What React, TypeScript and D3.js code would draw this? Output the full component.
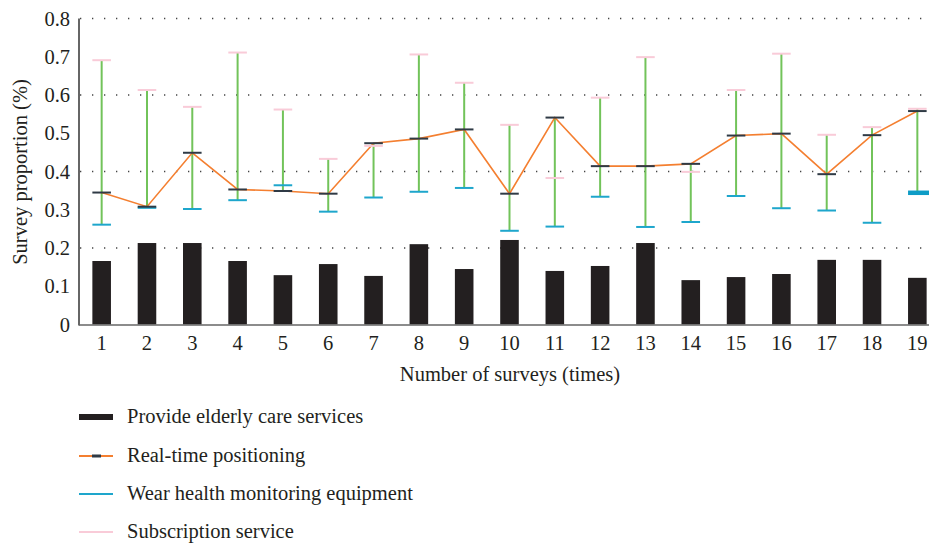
import { useEffect, useRef } from 'react';
import * as d3 from 'd3';

// survey rounds 1..19
const surveys = d3.range(1, 20).map(String);
// Provide elderly care services (bars)
const careValues = [0.166, 0.213, 0.213, 0.166, 0.129, 0.158, 0.127, 0.21, 0.145, 0.221, 0.14, 0.153, 0.213, 0.116, 0.124, 0.132, 0.169, 0.169, 0.122];
// Real-time positioning (line)
const positioningValues = [0.345, 0.308, 0.449, 0.353, 0.349, 0.342, 0.474, 0.486, 0.51, 0.342, 0.541, 0.414, 0.414, 0.42, 0.494, 0.499, 0.393, 0.495, 0.558];
// Wear health monitoring equipment (cap)
const wearValues = [0.261, 0.305, 0.302, 0.325, 0.364, 0.295, 0.332, 0.347, 0.357, 0.245, 0.256, 0.334, 0.255, 0.268, 0.336, 0.304, 0.298, 0.266, 0.345];
// Subscription service (cap)
const subscriptionValues = [0.691, 0.613, 0.569, 0.711, 0.562, 0.433, 0.467, 0.706, 0.632, 0.522, 0.383, 0.593, 0.699, 0.399, 0.613, 0.708, 0.496, 0.516, 0.564];
const yTicks = [0, 0.1, 0.2, 0.3, 0.4, 0.5, 0.6, 0.7, 0.8];
const gridTicks = [0.2, 0.4, 0.6, 0.8];
const legendLabels = ['Provide elderly care services', 'Real-time positioning', 'Wear health monitoring equipment', 'Subscription service'];

const FONT = '"Liberation Serif", "Times New Roman", serif';
const FS = '20.5px';

const App = () => {
  const svgRef = useRef<SVGSVGElement>(null);

  useEffect(() => {
    const w = 929;
    const h = 543;
    const svg = d3.select(svgRef.current);
    svg.selectAll('*').remove();
    svg.attr('width', w).attr('height', h);

    const x = d3.scaleBand().domain(surveys).range([79, 940]).paddingInner(0.59).paddingOuter(0.295);
    const y = d3.scaleLinear().domain([0, 0.8]).range([324.5, 18.5]);
    const cx = (i: number) => (x(surveys[i]) as number) + x.bandwidth() / 2;
    const capW = x.bandwidth();

    // dotted grid
    svg.append('g')
      .selectAll('line')
      .data(gridTicks)
      .enter().append('line')
      .attr('x1', 80).attr('x2', w)
      .attr('y1', d => y(d)).attr('y2', d => y(d))
      .attr('stroke', '#444')
      .attr('stroke-width', 1.3)
      .attr('stroke-dasharray', '1.3,10.7');

    // bars
    svg.append('g')
      .selectAll('rect')
      .data(careValues)
      .enter().append('rect')
      .attr('x', (d, i) => x(surveys[i]) as number)
      .attr('y', d => y(d))
      .attr('width', x.bandwidth())
      .attr('height', d => y(0) - y(d))
      .attr('fill', '#231f20');

    // green range lines
    svg.append('g')
      .selectAll('line')
      .data(surveys)
      .enter().append('line')
      .attr('x1', (d, i) => cx(i)).attr('x2', (d, i) => cx(i))
      .attr('y1', (d, i) => y(Math.max(positioningValues[i], wearValues[i], subscriptionValues[i])))
      .attr('y2', (d, i) => y(Math.min(positioningValues[i], wearValues[i], subscriptionValues[i])))
      .attr('stroke', '#72c35a')
      .attr('stroke-width', 2);

    // orange line
    const line = d3.line<number>().x((d, i) => cx(i)).y(d => y(d));
    svg.append('path')
      .datum(positioningValues)
      .attr('d', line)
      .attr('fill', 'none')
      .attr('stroke', '#f47f30')
      .attr('stroke-width', 1.6);

    const caps = (vals: number[], color: string, thick: number) => {
      svg.append('g')
        .selectAll('line')
        .data(vals)
        .enter().append('line')
        .attr('x1', (d, i) => cx(i) - capW / 2).attr('x2', (d, i) => cx(i) + capW / 2)
        .attr('y1', d => y(d)).attr('y2', d => y(d))
        .attr('stroke', color)
        .attr('stroke-width', thick);
    };
    caps(subscriptionValues, '#f9cbd8', 2);
    caps(wearValues.slice(0, 18), '#1ea6cc', 2);
    caps(positioningValues, '#2f3a45', 2);
    // last blue cap drawn heavier
    svg.append('rect')
      .attr('x', cx(18) - capW / 2)
      .attr('y', y(wearValues[18]) - 2)
      .attr('width', capW + 4)
      .attr('height', 4.5)
      .attr('fill', '#0e9cc6');

    // axes
    svg.append('line')
      .attr('x1', 79).attr('x2', 79)
      .attr('y1', y(0.8)).attr('y2', y(0) + 1)
      .attr('stroke', '#333').attr('stroke-width', 1.5);
    svg.append('line')
      .attr('x1', 79).attr('x2', w)
      .attr('y1', y(0) + 0.5).attr('y2', y(0) + 0.5)
      .attr('stroke', '#666').attr('stroke-width', 1.5);

    svg.append('g')
      .selectAll('text')
      .data(yTicks)
      .enter().append('text')
      .attr('x', 70)
      .attr('y', d => y(d))
      .attr('dy', '0.35em')
      .attr('text-anchor', 'end')
      .style('font-family', FONT)
      .style('font-size', FS)
      .attr('fill', '#231f20')
      .text(d => (d === 0 ? '0' : d3.format('.1f')(d)));

    svg.append('g')
      .selectAll('text')
      .data(surveys)
      .enter().append('text')
      .attr('x', (d, i) => cx(i))
      .attr('y', 343)
      .attr('dy', '0.35em')
      .attr('text-anchor', 'middle')
      .style('font-family', FONT)
      .style('font-size', FS)
      .attr('fill', '#231f20')
      .text(d => d);

    svg.append('text')
      .attr('x', 510)
      .attr('y', 374)
      .attr('dy', '0.35em')
      .attr('text-anchor', 'middle')
      .style('font-family', FONT)
      .style('font-size', FS)
      .attr('fill', '#231f20')
      .text('Number of surveys (times)');

    svg.append('text')
      .attr('transform', 'translate(20,172) rotate(-90)')
      .attr('dy', '0.35em')
      .attr('text-anchor', 'middle')
      .style('font-family', FONT)
      .style('font-size', FS)
      .attr('fill', '#231f20')
      .text('Survey proportion (%)');

    // legend
    const ly = [417, 456, 494, 532];
    const lg = svg.append('g');
    lg.append('rect').attr('x', 79).attr('y', ly[0] - 3).attr('width', 34).attr('height', 6).attr('fill', '#231f20');
    lg.append('line').attr('x1', 79).attr('x2', 113).attr('y1', ly[1]).attr('y2', ly[1]).attr('stroke', '#f47f30').attr('stroke-width', 2);
    lg.append('rect').attr('x', 92).attr('y', ly[1] - 1.5).attr('width', 9).attr('height', 3).attr('fill', '#2f3a45');
    lg.append('line').attr('x1', 79).attr('x2', 113).attr('y1', ly[2]).attr('y2', ly[2]).attr('stroke', '#1ea6cc').attr('stroke-width', 2);
    lg.append('line').attr('x1', 79).attr('x2', 113).attr('y1', ly[3]).attr('y2', ly[3]).attr('stroke', '#f9cbd8').attr('stroke-width', 2);
    lg.selectAll('text')
      .data(legendLabels)
      .enter().append('text')
      .attr('x', 127)
      .attr('y', (d, i) => ly[i])
      .attr('dy', '0.3em')
      .style('font-family', FONT)
      .style('font-size', FS)
      .attr('fill', '#231f20')
      .text(d => d);
  }, []);

  return (
    <svg ref={svgRef} style={{ position: 'absolute', left: 0, top: 0, background: '#fff' }}></svg>
  );
};

export default App;
